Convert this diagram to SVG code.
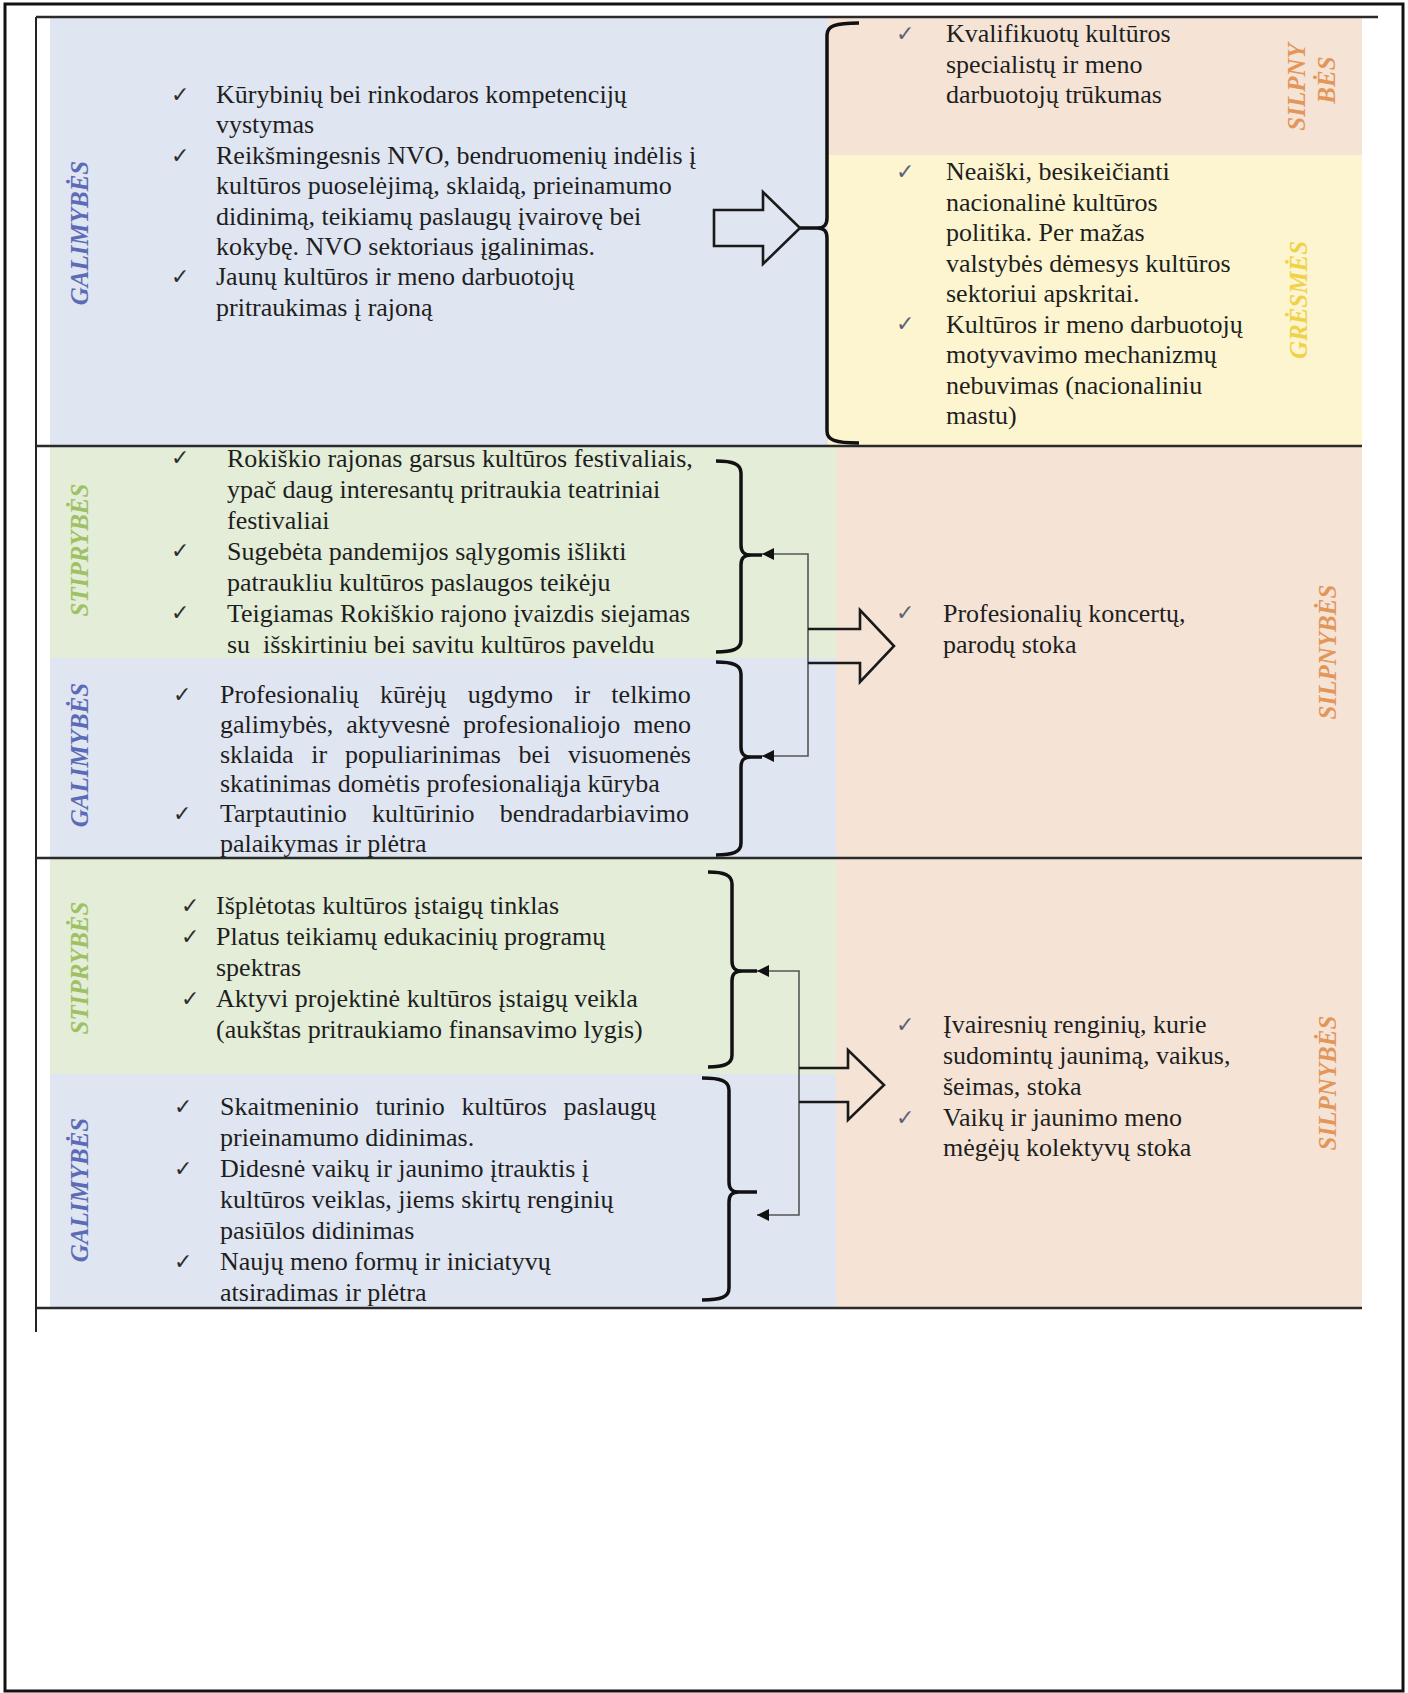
<svg xmlns="http://www.w3.org/2000/svg" width="1408" height="1693" viewBox="0 0 1408 1693">
<style>
.t{font-family:"Liberation Serif","Times New Roman",serif;font-size:26px;fill:#1e1e1e}
.ck{font-family:"DejaVu Sans",sans-serif;font-size:22px;fill:#2d2d2d}
.ckr{fill:#5d6177}
.lbl{font-family:"Liberation Serif","Times New Roman",serif;font-size:25px;font-weight:bold;font-style:italic;text-anchor:middle;dominant-baseline:central}
.blue{fill:#dfe5f1}.green{fill:#e3edd8}.peach{fill:#f5e4d6}.yellow{fill:#fcf5d0}
.rule{stroke:#2a2a2a;stroke-width:2.5;fill:none}
.brace{fill:none;stroke:#111;stroke-width:3.5;stroke-linejoin:round}
.blk{fill:none;stroke:#1a1a1a;stroke-width:2.6;stroke-linejoin:miter}
.conn{fill:none;stroke:#555;stroke-width:1.6}
</style>
<defs>
<marker id="ah" viewBox="0 0 12 12" refX="12" refY="6" markerWidth="12" markerHeight="12" markerUnits="userSpaceOnUse" orient="auto-start-reverse">
<path d="M0,0 L12,6 L0,12 z" fill="#111"/>
</marker>
</defs>
<rect x="0" y="0" width="1408" height="1693" fill="#ffffff"/>
<rect x="5" y="4" width="1398" height="1687" fill="none" stroke="#111" stroke-width="3"/>
<line x1="36" y1="17" x2="36" y2="1332" stroke="#222" stroke-width="2"/>

<g id="backgrounds">
<rect class="blue" x="50" y="18" width="778" height="428"/>
<rect class="peach" x="828" y="18" width="534" height="137"/>
<rect class="yellow" x="828" y="155" width="534" height="291"/>
<rect class="green" x="50" y="446" width="786" height="212"/>
<rect class="blue" x="50" y="658" width="786" height="200"/>
<rect class="peach" x="836" y="446" width="526" height="412"/>
<rect class="green" x="50" y="858" width="786" height="216"/>
<rect class="blue" x="50" y="1074" width="786" height="234"/>
<rect class="peach" x="836" y="858" width="526" height="450"/>
</g>
<g id="rules">
<line class="rule" x1="36" y1="17" x2="1378" y2="17" stroke-width="3"/>
<line class="rule" x1="36" y1="446" x2="1362" y2="446"/>
<line class="rule" x1="36" y1="858" x2="1362" y2="858"/>
<line class="rule" x1="36" y1="1308" x2="1362" y2="1308"/>
</g>

<g id="label-r1-galimybes"><text class="lbl" fill="#5b6bb5" transform="translate(79,233) rotate(-90)">GALIMYBĖS</text></g>
<g id="label-r1-silpnybes"><text class="lbl" fill="#e3965a" transform="translate(1296,87) rotate(-90)">SILPNY</text><text class="lbl" fill="#e3965a" transform="translate(1326,80) rotate(-90)">BĖS</text></g>
<g id="label-r1-gresmes"><text class="lbl" fill="#f0d24a" transform="translate(1298,300) rotate(-90)">GRĖSMĖS</text></g>
<g id="label-r2-stiprybes"><text class="lbl" fill="#9fc064" transform="translate(79,550) rotate(-90)">STIPRYBĖS</text></g>
<g id="label-r2-galimybes"><text class="lbl" fill="#5b6bb5" transform="translate(79,755) rotate(-90)">GALIMYBĖS</text></g>
<g id="label-r2-silpnybes"><text class="lbl" fill="#e3965a" transform="translate(1327,652) rotate(-90)">SILPNYBĖS</text></g>
<g id="label-r3-stiprybes"><text class="lbl" fill="#9fc064" transform="translate(79,968) rotate(-90)">STIPRYBĖS</text></g>
<g id="label-r3-galimybes"><text class="lbl" fill="#5b6bb5" transform="translate(79,1190) rotate(-90)">GALIMYBĖS</text></g>
<g id="label-r3-silpnybes"><text class="lbl" fill="#e3965a" transform="translate(1327,1083) rotate(-90)">SILPNYBĖS</text></g>

<g id="node-r1-galimybes">
<text class="ck" x="171" y="102">✓</text>
<text class="ck" x="171" y="163">✓</text>
<text class="ck" x="171" y="284">✓</text>
<text class="t" x="216" y="103">Kūrybinių bei rinkodaros kompetencijų</text>
<text class="t" x="216" y="133.4">vystymas</text>
<text class="t" x="216" y="163.8">Reikšmingesnis NVO, bendruomenių indėlis į</text>
<text class="t" x="216" y="194.2">kultūros puoselėjimą, sklaidą, prieinamumo</text>
<text class="t" x="216" y="224.6">didinimą, teikiamų paslaugų įvairovę bei</text>
<text class="t" x="216" y="255">kokybę. NVO sektoriaus įgalinimas.</text>
<text class="t" x="216" y="285.4">Jaunų kultūros ir meno darbuotojų</text>
<text class="t" x="216" y="315.8">pritraukimas į rajoną</text>
</g>

<g id="node-r1-silpnybes">
<text class="ck ckr" x="896" y="41">✓</text>
<text class="t" x="946" y="42">Kvalifikuotų kultūros</text>
<text class="t" x="946" y="72.5">specialistų ir meno</text>
<text class="t" x="946" y="103">darbuotojų trūkumas</text>
</g>
<g id="node-r1-gresmes">
<text class="ck ckr" x="896" y="179">✓</text>
<text class="ck ckr" x="896" y="331">✓</text>
<text class="t" x="946" y="180">Neaiški, besikeičianti</text>
<text class="t" x="946" y="210.5">nacionalinė kultūros</text>
<text class="t" x="946" y="241">politika. Per mažas</text>
<text class="t" x="946" y="271.5">valstybės dėmesys kultūros</text>
<text class="t" x="946" y="302">sektoriui apskritai.</text>
<text class="t" x="946" y="332.5">Kultūros ir meno darbuotojų</text>
<text class="t" x="946" y="363">motyvavimo mechanizmų</text>
<text class="t" x="946" y="393.5">nebuvimas (nacionaliniu</text>
<text class="t" x="946" y="424">mastu)</text>
</g>

<g id="node-r2-stiprybes">
<text class="ck" x="171" y="465">✓</text>
<text class="ck" x="171" y="558">✓</text>
<text class="ck" x="171" y="620">✓</text>
<text class="t" x="227" y="467">Rokiškio rajonas garsus kultūros festivaliais,</text>
<text class="t" x="227" y="498">ypač daug interesantų pritraukia teatriniai</text>
<text class="t" x="227" y="529">festivaliai</text>
<text class="t" x="227" y="560">Sugebėta pandemijos sąlygomis išlikti</text>
<text class="t" x="227" y="591">patraukliu kultūros paslaugos teikėju</text>
<text class="t" x="227" y="622">Teigiamas Rokiškio rajono įvaizdis siejamas</text>
<text class="t" x="227" y="653" xml:space="preserve">su  išskirtiniu bei savitu kultūros paveldu</text>
</g>

<g id="node-r2-galimybes">
<text class="ck" x="173" y="702">✓</text>
<text class="ck" x="173" y="821">✓</text>
<text class="t" x="220" y="703" word-spacing="14.8">Profesionalių kūrėjų ugdymo ir telkimo</text>
<text class="t" x="220" y="732.8" word-spacing="6.3">galimybės, aktyvesnė profesionaliojo meno</text>
<text class="t" x="220" y="762.6" word-spacing="11.2">sklaida ir populiarinimas bei visuomenės</text>
<text class="t" x="220" y="792.4">skatinimas domėtis profesionaliąja kūryba</text>
<text class="t" x="220" y="822.2" word-spacing="18.8">Tarptautinio kultūrinio bendradarbiavimo</text>
<text class="t" x="220" y="852">palaikymas ir plėtra</text>
</g>

<g id="node-r2-silpnybes">
<text class="ck ckr" x="896" y="620">✓</text>
<text class="t" x="943" y="622">Profesionalių koncertų,</text>
<text class="t" x="943" y="652.5">parodų stoka</text>
</g>

<g id="node-r3-stiprybes">
<text class="ck" x="181" y="913">✓</text>
<text class="ck" x="181" y="944">✓</text>
<text class="ck" x="181" y="1006">✓</text>
<text class="t" x="216" y="914">Išplėtotas kultūros įstaigų tinklas</text>
<text class="t" x="216" y="945">Platus teikiamų edukacinių programų</text>
<text class="t" x="216" y="976">spektras</text>
<text class="t" x="216" y="1007">Aktyvi projektinė kultūros įstaigų veikla</text>
<text class="t" x="216" y="1038">(aukštas pritraukiamo finansavimo lygis)</text>
</g>

<g id="node-r3-galimybes">
<text class="ck" x="174" y="1114">✓</text>
<text class="ck" x="174" y="1176">✓</text>
<text class="ck" x="174" y="1269">✓</text>
<text class="t" x="220" y="1115" word-spacing="10.3">Skaitmeninio turinio kultūros paslaugų</text>
<text class="t" x="220" y="1146">prieinamumo didinimas.</text>
<text class="t" x="220" y="1177">Didesnė vaikų ir jaunimo įtrauktis į</text>
<text class="t" x="220" y="1208">kultūros veiklas, jiems skirtų renginių</text>
<text class="t" x="220" y="1239">pasiūlos didinimas</text>
<text class="t" x="220" y="1270">Naujų meno formų ir iniciatyvų</text>
<text class="t" x="220" y="1301">atsiradimas ir plėtra</text>
</g>

<g id="node-r3-silpnybes">
<text class="ck ckr" x="896" y="1032">✓</text>
<text class="ck ckr" x="896" y="1125">✓</text>
<text class="t" x="943" y="1033">Įvairesnių renginių, kurie</text>
<text class="t" x="943" y="1064">sudomintų jaunimą, vaikus,</text>
<text class="t" x="943" y="1095">šeimas, stoka</text>
<text class="t" x="943" y="1126">Vaikų ir jaunimo meno</text>
<text class="t" x="943" y="1156">mėgėjų kolektyvų stoka</text>
</g>

<g id="connectors">
<path class="brace" d="M859 23 C835 23 827 26 827 35 L827 218 C827 225 824 228 817 228 L800 228 M817 228 C824 228 827 231 827 238 L827 431 C827 440 835 443 859 443"/>
<polygon class="blk" points="714,210 763,210 763,192 800,228 763,264 763,246 714,246"/>

<path class="brace" d="M716 461 C733 461 741 464 741 473 L741 545 C741 552 744 555 751 555 L762 555 M751 555 C744 555 741 558 741 565 L741 640 C741 649 733 652 716 652"/>
<path class="brace" d="M716 662 C733 662 741 665 741 674 L741 747 C741 754 744 757 751 757 L762 757 M751 757 C744 757 741 760 741 767 L741 843 C741 852 733 855 716 855"/>
<path class="conn" d="M762 554 H808 V756 H762" marker-start="url(#ah)" marker-end="url(#ah)"/>
<polyline class="blk" points="808,629 860,629 860,610 894,646 860,682 860,663 808,663"/>

<path class="brace" d="M708 872 C724 872 732 875 732 884 L732 961 C732 968 735 971 742 971 L757 971 M742 971 C735 971 732 974 732 981 L732 1055 C732 1064 724 1067 708 1067"/>
<path class="brace" d="M702 1078 C721 1078 729 1081 729 1090 L729 1182 C729 1189 732 1192 739 1192 L757 1192 M739 1192 C732 1192 729 1195 729 1202 L729 1288 C729 1297 721 1300 702 1300"/>
<path class="conn" d="M757 971 H799 V1215 H757" marker-start="url(#ah)" marker-end="url(#ah)"/>
<polyline class="blk" points="799,1068 848,1068 848,1050 884,1085 848,1120 848,1102 799,1102"/>
</g>
</svg>
